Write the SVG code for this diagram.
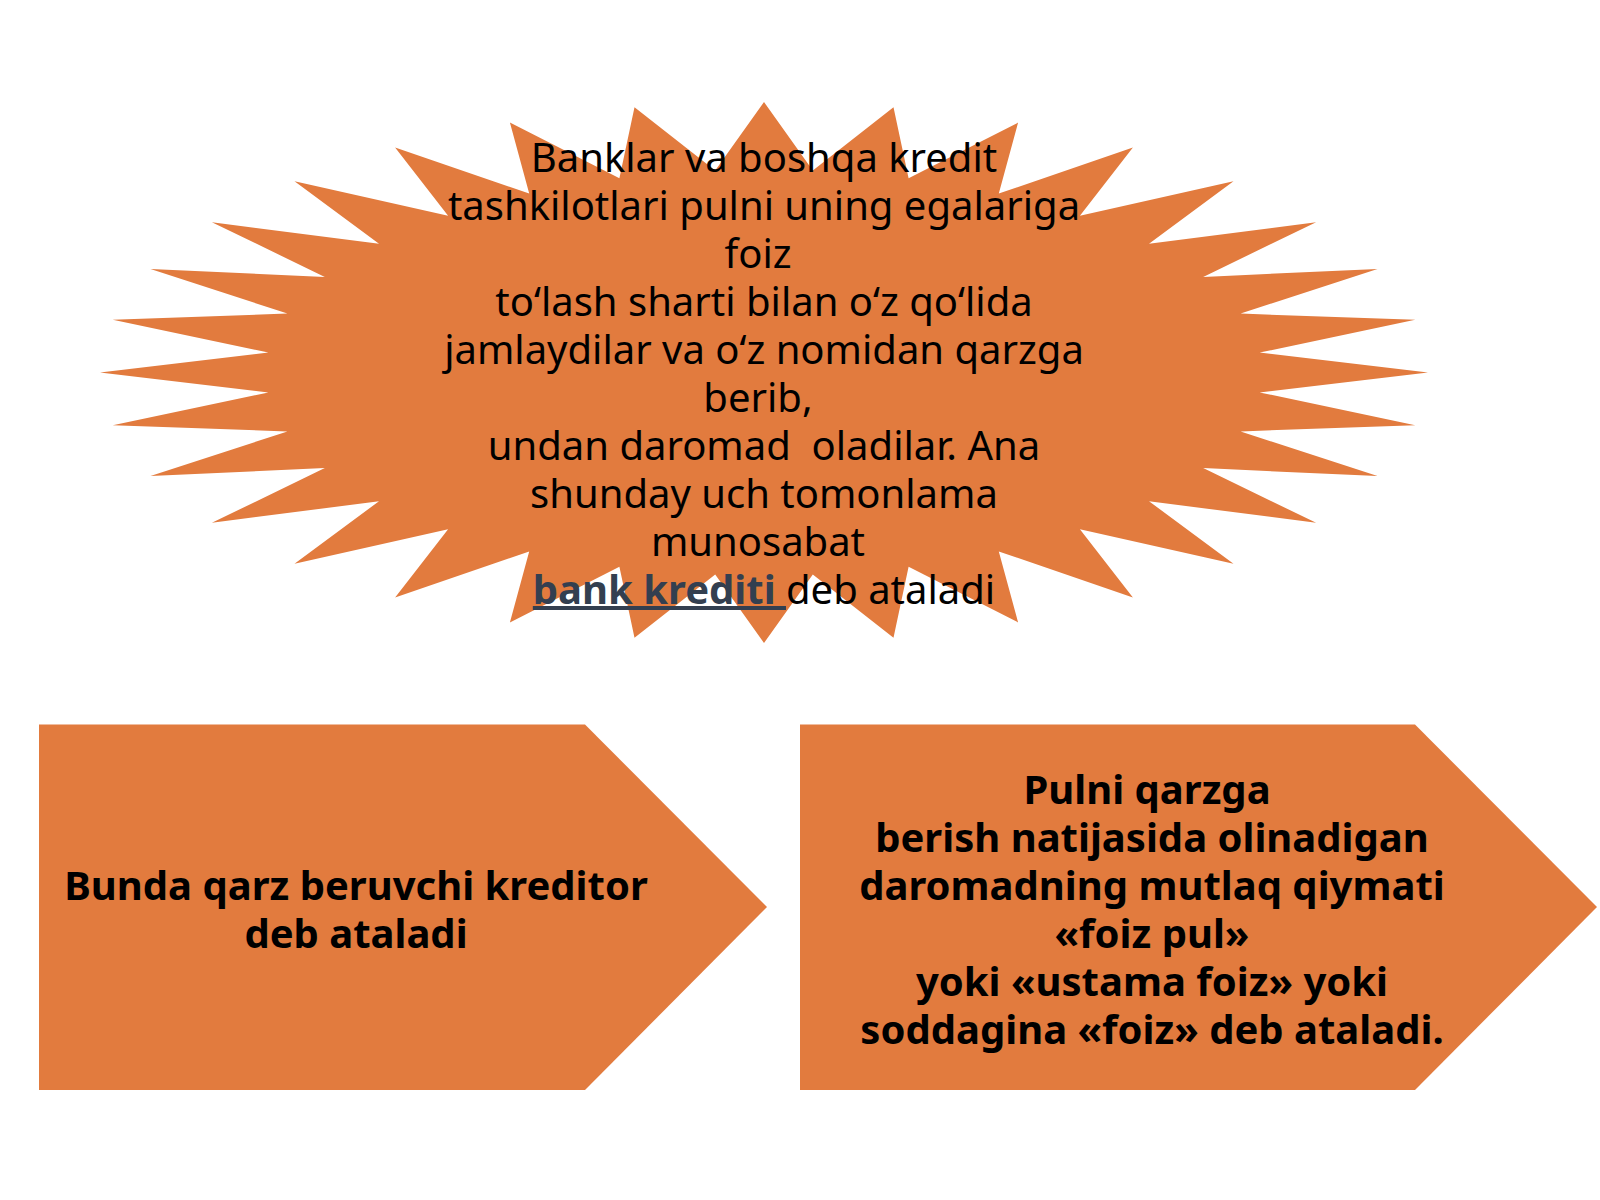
<svg xmlns="http://www.w3.org/2000/svg" width="1600" height="1200" viewBox="0 0 1600 1200">
<style>
.shape{fill:#E27B3E;}
.t{font-family:"Noto Sans","Open Sans","Liberation Sans",sans-serif;font-size:40px;fill:#000;text-anchor:middle;}
.b{font-weight:bold;}
.lnk{fill:#333F50;font-weight:bold;text-decoration:underline;}
</style>
<rect width="1600" height="1200" fill="#FFFFFF"/>
<g id="star">
<polygon class="shape" points="764,102 812.8,170.6 893.5,107.2 908.6,178.3 1018.1,122.6 998.8,193.6 1132.9,147.6 1079.9,215.7 1233.5,181.2 1149,243.8 1316.1,222.2 1203.2,276.9 1377.5,269 1240.6,313.6 1415.2,319.7 1259.6,352.6 1428,372.5 1259.6,392.4 1415.2,425.3 1240.6,431.4 1377.5,476 1203.2,468.1 1316.1,522.8 1149,501.2 1233.5,563.8 1079.9,529.3 1132.9,597.4 998.8,551.4 1018.1,622.4 908.6,566.7 893.5,637.8 812.8,574.4 764,643 715.2,574.4 634.5,637.8 619.4,566.7 509.9,622.4 529.2,551.4 395.1,597.4 448.1,529.3 294.5,563.8 379,501.2 211.9,522.8 324.8,468.1 150.5,476 287.4,431.4 112.8,425.3 268.4,392.4 100,372.5 268.4,352.6 112.8,319.7 287.4,313.6 150.5,269 324.8,276.9 211.9,222.2 379,243.8 294.5,181.2 448.1,215.7 395.1,147.6 529.2,193.6 509.9,122.6 619.4,178.3 634.5,107.2 715.2,170.6"/>
<text class="t" x="764" y="172">Banklar va boshqa kredit</text>
<text class="t" x="764" y="220">tashkilotlari pulni uning egalariga</text>
<text class="t" x="758" y="268">foiz</text>
<text class="t" x="764" y="316">to‘lash sharti bilan o‘z qo‘lida</text>
<text class="t" x="764" y="364">jamlaydilar va o‘z nomidan qarzga</text>
<text class="t" x="758" y="412">berib,</text>
<text class="t" x="764" y="460">undan daromad&#160; oladilar. Ana</text>
<text class="t" x="764" y="508">shunday uch tomonlama</text>
<text class="t" x="758" y="556">munosabat</text>
<text class="t" x="764" y="604"><tspan class="lnk">bank krediti </tspan><tspan>deb ataladi</tspan></text>
</g>
<g id="arrow-left">
<polygon class="shape" points="39,724.5 585,724.5 767,907 585,1090 39,1090"/>
<text class="t b" x="356" y="900">Bunda qarz beruvchi kreditor</text>
<text class="t b" x="356" y="948">deb ataladi</text>
</g>
<g id="arrow-right">
<polygon class="shape" points="800,724.5 1415,724.5 1597,907 1415,1090 800,1090"/>
<text class="t b" x="1147" y="804">Pulni qarzga</text>
<text class="t b" x="1152" y="852">berish natijasida olinadigan</text>
<text class="t b" x="1152" y="900">daromadning mutlaq qiymati</text>
<text class="t b" x="1152" y="948">«foiz pul»</text>
<text class="t b" x="1152" y="996">yoki «ustama foiz» yoki</text>
<text class="t b" x="1152" y="1044">soddagina «foiz» deb ataladi.</text>
</g>
<g id="connectors"></g>
</svg>
